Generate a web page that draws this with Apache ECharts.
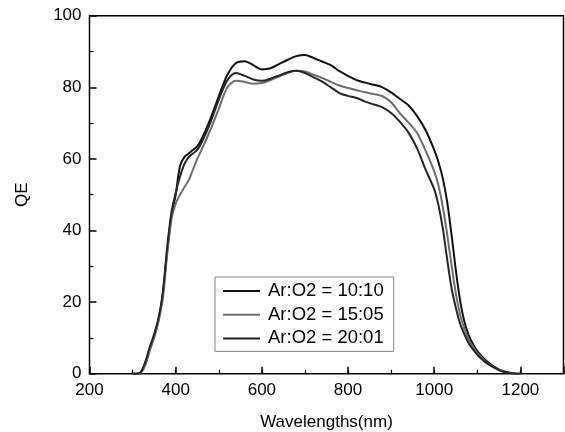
<!DOCTYPE html>
<html>
<head>
<meta charset="utf-8">
<script src="https://cdn.jsdelivr.net/npm/echarts@6/dist/echarts.min.js"></script>
<style>html,body{margin:0;padding:0;background:#fff}#c{width:565px;height:432px}</style>
</head>
<body>
<div id="c"></div>
<script>
var seriesNames = ['Ar:O2 = 10:10', 'Ar:O2 = 15:05', 'Ar:O2 = 20:01'];
var wavelengths = [300,310,320,330,340,350,360,370,380,390,400,410,420,430,440,450,460,480,500,520,540,560,580,600,620,640,660,680,700,720,740,760,780,800,820,840,860,880,900,920,940,960,980,1000,1010,1020,1030,1040,1050,1060,1070,1080,1090,1100,1110,1120,1130,1140,1150,1160,1170,1180,1190,1200];
var qe1010 = [0,0,0.5,3,7,10.5,15,22,34,44,50,58,60.5,61.5,62.5,63.5,65.5,71,77.5,83.5,86.8,87.3,86.2,85.0,85.3,86.5,87.7,88.7,89.0,88.2,87.2,86.2,84.5,83.2,82.0,81.3,80.7,80.0,78.6,76.8,75.0,72.0,68.0,62.5,59,54.5,48,39,29,20.5,14.5,10.8,8.2,6.3,4.9,3.7,2.7,1.9,1.2,0.7,0.4,0.2,0,0];
var qe1505 = [0,0,0.3,2.5,6.5,10,14.5,21,33,43,47.5,50,52,54,57,60,62.5,68,74,80,81.8,81.5,81.0,81.2,82.0,83.0,84.0,84.6,84.4,83.5,82.6,81.5,80.5,79.8,79.2,78.6,78.1,77.5,75.8,72.8,70.2,67.3,62.3,56.5,52.5,46.5,39,30.5,22.5,16.5,12.5,9.5,7.5,5.8,4.5,3.3,2.4,1.7,1.1,0.6,0.3,0.1,0,0];
var qe2001 = [0,0,0.6,3.5,7.5,11,15.5,22.5,35,45,50.5,55,58.5,60.5,61.5,62.5,64.5,70,76.5,82,84.0,83.2,82.2,81.8,82.4,83.3,84.2,84.6,84.0,82.8,81.6,80.0,78.4,77.6,77.0,76.0,75.2,74.4,72.8,70.4,67.4,63.0,57.0,51.5,47,40.5,32,24,18.5,14,11,8.5,6.8,5.3,4.1,3.1,2.3,1.6,1.0,0.6,0.3,0.1,0,0];
var xTicks = [200,400,600,800,1000,1200];
var yTicks = [0,20,40,60,80,100];

function pairs(v){ return wavelengths.map(function(w,i){ return [w, v[i]]; }); }
var FONT = 'Liberation Sans, Arial, sans-serif';
var chart = echarts.init(document.getElementById('c'), null, {renderer:'canvas'});
var colors = ['#111111', '#6e6e6e', '#262626'];
var data = [qe1010, qe1505, qe2001];
chart.setOption({
  animation: false,
  backgroundColor: '#fff',
  grid: {left: 89.5, right: 1.5, top: 15.7, bottom: 58.3, containLabel: false, outerBoundsMode: 'none',
    show: true, borderColor: '#000', borderWidth: 1.5, backgroundColor: 'transparent'},
  legend: {
    orient: 'vertical', left: 215, top: 277,
    padding: [4, 10, 3, 8],
    itemGap: 3.7, itemWidth: 37, itemHeight: 2, icon: 'rect',
    backgroundColor: '#fff', borderColor: '#888', borderWidth: 1, borderRadius: 0,
    textStyle: {fontFamily: FONT, fontSize: 18.5, color: '#000', lineHeight: 20, padding: [0,0,0,3]},
    data: seriesNames
  },
  xAxis: [{
    type: 'value', min: 200, max: 1300, interval: 200,
    name: 'Wavelengths(nm)', nameLocation: 'middle', nameGap: 40,
    nameTextStyle: {fontFamily: FONT, fontSize: 17, color: '#000'},
    axisLine: {show: false},
    axisTick: {show: true, inside: true, length: 7, lineStyle: {color: '#000', width: 1.5}},
    axisLabel: {fontFamily: FONT, fontSize: 17, color: '#000', margin: 8,
      formatter: function(v){ return xTicks.indexOf(v) >= 0 ? String(v) : ''; }},
    splitLine: {show: false}
  }, {
    type: 'value', min: 200, max: 1300, interval: 100, position: 'bottom',
    axisLine: {show: false},
    axisTick: {show: true, inside: true, length: 4, lineStyle: {color: '#000', width: 1.2}},
    axisLabel: {show: false}, splitLine: {show: false}
  }],
  yAxis: {
    type: 'value', min: 0, max: 100, interval: 20,
    name: 'QE', nameLocation: 'middle', nameGap: 59,
    nameTextStyle: {fontFamily: FONT, fontSize: 17, color: '#000'},
    axisLine: {show: false},
    axisTick: {show: true, inside: true, length: 7, lineStyle: {color: '#000', width: 1.5}},
    minorTick: {show: true, splitNumber: 2, length: 4, lineStyle: {color: '#000', width: 1.2}},
    axisLabel: {fontFamily: FONT, fontSize: 17, color: '#000', margin: 8,
      formatter: function(v){ return yTicks.indexOf(v) >= 0 ? String(v) : ''; }},
    splitLine: {show: false}
  },
  series: seriesNames.map(function(n, i){
    return {
      name: n, type: 'line', xAxisIndex: 0, smooth: 0.3, symbol: 'none',
      data: pairs(data[i]),
      itemStyle: {color: colors[i]},
      lineStyle: {color: colors[i], width: 2}
    };
  })
});
</script>
</body>
</html>
